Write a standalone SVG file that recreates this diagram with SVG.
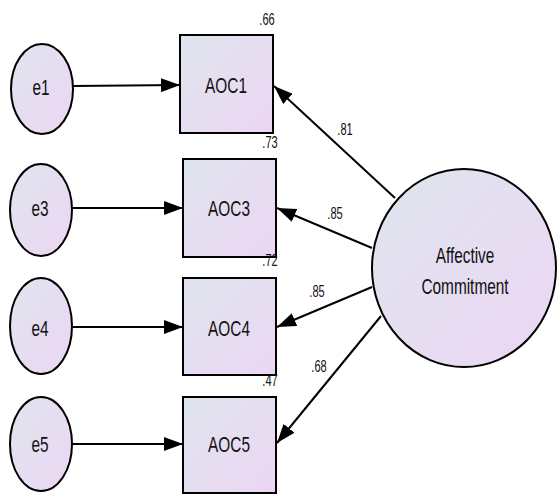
<svg xmlns="http://www.w3.org/2000/svg" width="558" height="494" viewBox="0 0 558 494">
<defs>
<linearGradient id="g" x1="0" y1="0" x2="1" y2="1">
<stop offset="0" stop-color="#dfe5ee"/>
<stop offset="1" stop-color="#ecd6f3"/>
</linearGradient>
<marker id="ah" markerUnits="userSpaceOnUse" markerWidth="19" markerHeight="14" refX="19" refY="7" orient="auto" viewBox="0 0 19 14">
<path d="M0,0 L19,7 L0,14 z" fill="#000"/>
</marker>
<style>
.n{fill:url(#g);stroke:#000;stroke-width:2}
.t{font-family:"Liberation Sans",Arial,sans-serif;font-size:22px;fill:#111;text-anchor:middle}
.s{font-family:"Liberation Sans",Arial,sans-serif;font-size:17px;fill:#111;text-anchor:middle}
.c{stroke:#000;stroke-width:2;fill:none;marker-end:url(#ah)}
</style>
</defs>
<rect width="558" height="494" fill="#fff"/>
<g id="connectors">
<line class="c" x1="73" y1="86" x2="180" y2="85"/>
<line class="c" x1="72" y1="208" x2="183" y2="208"/>
<line class="c" x1="72" y1="327" x2="183" y2="327"/>
<line class="c" x1="72" y1="444" x2="183" y2="444"/>
<line class="c" x1="395" y1="198" x2="274" y2="86"/>
<line class="c" x1="372" y1="248" x2="277" y2="208"/>
<line class="c" x1="372" y1="287" x2="277" y2="327"/>
<line class="c" x1="381" y1="316" x2="277" y2="443"/>
<text class="s" transform="translate(345,135) scale(0.65,1)">.81</text>
<text class="s" transform="translate(335,219) scale(0.65,1)">.85</text>
<text class="s" transform="translate(317,297) scale(0.65,1)">.85</text>
<text class="s" transform="translate(319,372) scale(0.65,1)">.68</text>
</g>
<g id="e1"><ellipse class="n" cx="42" cy="89" rx="31" ry="45"/><text class="t" transform="translate(41,95) scale(0.7,1)">e1</text></g>
<g id="e3"><ellipse class="n" cx="41" cy="210" rx="31" ry="46"/><text class="t" transform="translate(40,216) scale(0.7,1)">e3</text></g>
<g id="e4"><ellipse class="n" cx="41" cy="326" rx="31" ry="48"/><text class="t" transform="translate(40,336) scale(0.7,1)">e4</text></g>
<g id="e5"><ellipse class="n" cx="41" cy="444" rx="31" ry="47"/><text class="t" transform="translate(40,452) scale(0.7,1)">e5</text></g>
<g id="AOC1"><rect class="n" x="180" y="35" width="93" height="98"/><text class="t" transform="translate(226,93) scale(0.7,1)">AOC1</text><text class="s" transform="translate(267,25) scale(0.65,1)">.66</text></g>
<g id="AOC3"><rect class="n" x="183" y="159" width="93" height="98"/><text class="t" transform="translate(229,216) scale(0.7,1)">AOC3</text><text class="s" transform="translate(270,148) scale(0.65,1)">.73</text></g>
<g id="AOC4"><rect class="n" x="183" y="278" width="93" height="97"/><text class="t" transform="translate(229,336) scale(0.7,1)">AOC4</text><text class="s" transform="translate(270,266) scale(0.65,1)">.72</text></g>
<g id="AOC5"><rect class="n" x="183" y="397" width="93" height="96"/><text class="t" transform="translate(229,452) scale(0.7,1)">AOC5</text><text class="s" transform="translate(270,386) scale(0.65,1)">.47</text></g>
<g id="AffectiveCommitment"><ellipse class="n" cx="464" cy="268" rx="92" ry="99"/><text class="t" transform="translate(465,263) scale(0.7,1)">Affective</text><text class="t" transform="translate(465,294) scale(0.7,1)">Commitment</text></g>
</svg>
